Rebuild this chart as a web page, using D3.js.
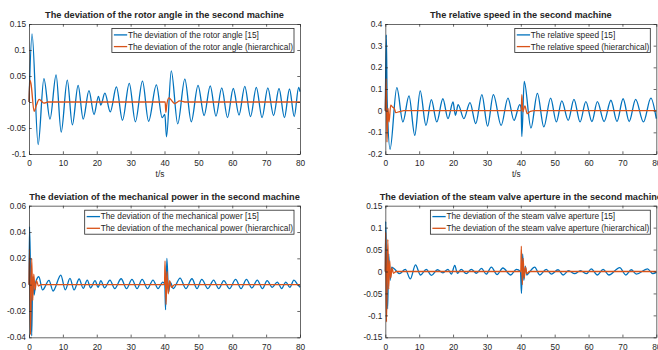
<!DOCTYPE html>
<html>
<head>
<meta charset="utf-8">
<script src="https://cdn.jsdelivr.net/npm/d3@7"></script>
<style>
  body { margin: 0; background: #fff; }
  text { font-family: "Liberation Sans", Arial, sans-serif; fill: #262626; }
</style>
</head>
<body>
<div id="chart"></div>
<script>
// ---- data (extrema of each trace) ----
var timeTicks = [0, 10, 20, 30, 40, 50, 60, 70, 80];

// rotor angle deviation
var angleTicks = [-0.1, -0.05, 0, 0.05, 0.1, 0.15];
var angleRefT = [0, 0.9, 2.7, 4.4, 6.2, 8.0, 9.5, 11.3, 12.8, 14.5, 16.0, 17.7, 19.2, 20.5, 21.2, 22.4, 24.0, 25.8, 27.6, 29.6, 31.4, 33.5, 35.3, 37.6, 39.3, 40.1, 40.6, 42.0, 43.9, 46.0, 47.9, 49.9, 51.7, 53.5, 55.2, 56.9, 58.6, 60.3, 62.0, 63.7, 65.4, 67.1, 68.8, 70.5, 72.2, 73.8, 75.4, 76.9, 78.3, 79.6, 80];
var angleRefV = [0, 0.131, -0.082, 0.045, -0.033, 0.052, -0.058, 0.042, -0.044, 0.032, -0.033, 0.022, -0.024, 0.011, -0.006, 0.017, -0.019, 0.029, -0.035, 0.036, -0.038, 0.04, -0.037, 0.033, -0.03, -0.024, -0.067, 0.06, -0.042, 0.044, -0.038, 0.032, -0.026, 0.031, -0.027, 0.027, -0.03, 0.026, -0.025, 0.03, -0.028, 0.028, -0.03, 0.027, -0.026, 0.026, -0.03, 0.025, -0.028, 0.028, 0.02];
var angleHieT = [0, 0.25, 0.6, 1.5, 2.2, 3.0, 4.4, 5.6, 40.2, 40.4, 40.7, 41.3, 42.2, 43.0, 44.5, 46.0, 80];
var angleHieV = [0, 0.042, 0.035, -0.018, -0.006, 0.005, -0.002, 0, 0, -0.02, -0.004, 0.008, 0.002, -0.003, 0.002, 0, 0];

// relative speed
var speedTicks = [-0.2, -0.1, 0, 0.1, 0.2, 0.3, 0.4];
var speedRefT = [0, 0.3, 0.55, 1.4, 3.4, 5.2, 7.0, 8.7, 10.3, 12.0, 13.6, 15.2, 17.0, 18.5, 20.0, 20.7, 21.5, 23.2, 25.0, 26.7, 28.5, 30.2, 31.9, 34.2, 36.2, 38.0, 39.7, 40.1, 40.3, 41.0, 43.0, 44.9, 46.8, 48.8, 50.5, 52.1, 54.0, 55.7, 57.5, 59.2, 61.0, 62.6, 64.6, 66.6, 68.4, 70.2, 72.0, 73.9, 76.2, 78.4, 80];
var speedRefV = [0, 0.35, 0.05, -0.178, 0.106, -0.052, 0.068, -0.114, 0.091, -0.068, 0.051, -0.052, 0.055, -0.037, 0.04, -0.022, 0.028, -0.037, 0.037, -0.06, 0.074, -0.071, 0.074, -0.068, 0.058, -0.045, 0.028, 0.01, -0.12, 0.135, -0.08, 0.08, -0.075, 0.058, -0.052, 0.045, -0.045, 0.052, -0.052, 0.042, -0.05, 0.042, -0.05, 0.048, -0.05, 0.055, -0.05, 0.052, -0.052, 0.058, -0.037];
var speedHieT = [0, 0.25, 0.5, 0.8, 1.1, 1.6, 2.1, 2.6, 3.1, 4.2, 5.5, 40.15, 40.3, 40.6, 41.2, 41.9, 42.8, 44, 80];
var speedHieV = [0, 0.148, -0.145, 0.01, -0.052, 0.025, 0.017, 0.012, -0.009, -0.004, 0, 0, 0.074, -0.005, 0.022, -0.014, -0.003, 0, 0];

// mechanical power deviation
var powerTicks = [-0.04, -0.02, 0, 0.02, 0.04, 0.06];
var powerRefT = [0, 0.15, 0.45, 0.8, 1.1, 1.5, 2.0, 2.9, 4.0, 5.9, 7.1, 9.4, 10.7, 12.1, 13.3, 14.8, 16.0, 17.2, 18.2, 19.5, 20.4, 21.2, 22.3, 23.9, 25.3, 27.2, 28.8, 30.4, 31.9, 33.4, 35.0, 36.6, 38.1, 39.5, 40.1, 40.3, 40.7, 41.2, 41.7, 42.6, 44.6, 46.3, 48.1, 49.6, 51.0, 52.8, 54.5, 56.0, 57.5, 59.2, 61.0, 62.6, 64.2, 65.8, 67.4, 68.9, 70.3, 71.8, 73.3, 74.6, 75.8, 77.0, 78.2, 79.3, 80];
var powerRefV = [0, 0.044, 0.01, -0.039, 0.006, -0.008, 0.002, 0.006, -0.004, 0.0033, -0.0048, 0.0073, -0.004, 0.0048, -0.004, 0.0043, -0.0028, 0.0035, -0.0025, 0.003, -0.002, 0.003, -0.0025, 0.0035, -0.003, 0.0045, -0.003, 0.004, -0.003, 0.004, -0.003, 0.0035, -0.003, 0.002, 0.0, -0.019, 0.02, -0.006, 0.002, -0.003, 0.005, -0.003, 0.0045, -0.003, 0.004, -0.003, 0.0035, -0.003, 0.003, -0.003, 0.004, -0.003, 0.004, -0.0025, 0.0035, -0.003, 0.003, -0.002, 0.002, -0.003, 0.002, -0.002, 0.0035, 0.0, -0.002];
var powerHieT = [0, 0.15, 0.45, 0.8, 1.1, 1.4, 1.8, 2.2, 2.8, 3.5, 40.0, 40.15, 40.45, 40.75, 41.1, 41.5, 42.0, 43.0, 80];
var powerHieV = [0, 0.027, -0.038, 0.02, -0.012, 0.008, -0.004, 0.003, -0.001, 0, 0, 0.018, -0.015, 0.01, -0.007, 0.003, -0.002, 0, 0];

// steam valve aperture deviation
var valveTicks = [-0.15, -0.1, -0.05, 0, 0.05, 0.1, 0.15];
var valveRefT = [0, 0.12, 0.4, 0.7, 1.0, 1.4, 1.9, 2.8, 4.2, 5.9, 7.4, 8.9, 10.4, 12.1, 13.6, 15.4, 17.0, 18.5, 19.5, 20.5, 21.3, 22.4, 23.9, 25.4, 26.9, 28.4, 29.8, 31.3, 33.0, 34.7, 37.0, 38.7, 39.9, 40.2, 40.55, 40.9, 41.3, 41.8, 42.6, 44.1, 45.6, 47.5, 49.0, 51.0, 52.5, 54.1, 55.9, 57.6, 59.4, 60.8, 62.6, 64.3, 66.0, 69.2, 71.0, 72.6, 74.1, 77.4, 79.0, 80];
var valveRefV = [0, 0.114, -0.02, -0.085, 0.04, -0.02, 0.01, 0.005, -0.005, 0.005, -0.017, 0.015, -0.008, 0.005, -0.009, 0.004, -0.003, 0.005, -0.006, 0.014, -0.004, 0.005, -0.005, 0.005, -0.004, 0.007, -0.006, 0.01, -0.007, 0.008, -0.008, 0.005, 0.0, -0.05, 0.04, -0.02, 0.012, -0.008, -0.001, 0.01, -0.008, 0.005, -0.006, 0.004, -0.008, 0.002, -0.005, 0.002, -0.005, 0.006, -0.008, 0.005, -0.008, 0.009, -0.008, 0.004, -0.006, 0.006, -0.005, -0.002];
var valveHieT = [0, 0.1, 0.35, 0.75, 1.0, 1.3, 1.6, 2.0, 2.4, 3.2, 40.0, 40.15, 40.45, 40.7, 41.0, 41.4, 41.8, 42.5, 80];
var valveHieV = [0, 0.09, -0.115, 0.073, -0.04, 0.025, -0.015, 0.008, -0.004, 0, 0, 0.058, -0.03, 0.03, -0.015, 0.01, -0.005, 0, 0];

// ---- layout ----
var blue = "#0072BD", orange = "#D95319", axisColor = "#262626";

var svg = d3.select("#chart").append("svg")
    .attr("width", 658)
    .attr("height", 350);

var panels = [
    {left: 29, top: 24, width: 271, height: 130, yTicks: angleTicks, xLabel: true,
     title: "The deviation of the rotor angle in the second machine",
     series: [[angleRefT, angleRefV], [angleHieT, angleHieV]],
     labels: ["The deviation of the rotor angle [15]", "The deviation of the rotor angle (hierarchical)"]},
    {left: 385.3, top: 24, width: 271, height: 130, yTicks: speedTicks, xLabel: true,
     title: "The relative speed in the second machine",
     series: [[speedRefT, speedRefV], [speedHieT, speedHieV]],
     labels: ["The relative speed [15]", "The relative speed (hierarchical)"]},
    {left: 29, top: 205.7, width: 271, height: 131.6, yTicks: powerTicks, xLabel: false,
     title: "The deviation of the mechanical power in the second machine",
     series: [[powerRefT, powerRefV], [powerHieT, powerHieV]],
     labels: ["The deviation of the mechanical power [15]", "The deviation of the mechanical power (hierarchical)"]},
    {left: 385.3, top: 205.7, width: 271, height: 131.6, yTicks: valveTicks, xLabel: false,
     title: "The deviation of the steam valve aperture in the second machine",
     series: [[valveRefT, valveRefV], [valveHieT, valveHieV]],
     labels: ["The deviation of the steam valve aperture [15]", "The deviation of the steam valve aperture (hierarchical)"]}
];

panels.forEach(drawPanel);

function drawPanel(p) {
    var g = svg.append("g")
        .attr("transform", "translate(" + p.left + "," + p.top + ")");

    var x = d3.scaleLinear().domain([0, 80]).range([0, p.width]);
    var y = d3.scaleLinear()
        .domain([p.yTicks[0], p.yTicks[p.yTicks.length - 1]])
        .range([p.height, 0]);

    var line = d3.line()
        .x(function(d) { return x(d[0]); })
        .y(function(d) { return y(d[1]); })
        .curve(d3.curveMonotoneX);

    // traces, blue first then orange on top
    var colors = [blue, orange];
    p.series.forEach(function(s, i) {
        g.append("path")
            .datum(d3.zip(s[0], s[1]))
            .attr("d", line)
            .attr("fill", "none")
            .attr("stroke", colors[i])
            .attr("stroke-width", 1.3)
            .attr("stroke-linejoin", "round");
    });

    // axes, ticks pointing inwards on all four sides
    var tick = 2.7;
    var axes = [
        g.append("g").attr("transform", "translate(0," + p.height + ")")
            .call(d3.axisBottom(x).tickValues(timeTicks).tickSizeInner(-tick).tickSizeOuter(0).tickPadding(6.5)),
        g.append("g")
            .call(d3.axisLeft(y).tickValues(p.yTicks).tickFormat(String).tickSizeInner(-tick).tickSizeOuter(0).tickPadding(3)),
        g.append("g")
            .call(d3.axisTop(x).tickValues(timeTicks).tickFormat("").tickSizeInner(-tick).tickSizeOuter(0)),
        g.append("g").attr("transform", "translate(" + p.width + ",0)")
            .call(d3.axisRight(y).tickValues(p.yTicks).tickFormat("").tickSizeInner(-tick).tickSizeOuter(0))
    ];
    axes.forEach(function(a) {
        a.selectAll("path, line").attr("stroke", axisColor).attr("stroke-width", 0.7);
        a.selectAll("text").attr("fill", axisColor)
            .attr("font-family", '"Liberation Sans", Arial, sans-serif')
            .attr("font-size", "8.3px");
    });

    // title
    g.append("text")
        .attr("x", p.width / 2)
        .attr("y", -6)
        .attr("text-anchor", "middle")
        .attr("font-weight", "bold")
        .attr("font-size", "9.2px")
        .text(p.title);

    // x label (the lower row's labels fall below the window)
    if (p.xLabel) {
        g.append("text")
            .attr("x", p.width / 2 - 4.5)
            .attr("y", p.height + 22.5)
            .attr("text-anchor", "middle")
            .attr("font-size", "8.3px")
            .text("t/s");
    }

    // legend, anchored to the top right corner of the axes
    var leg = g.append("g");
    var box = leg.append("rect")
        .attr("fill", "#fff")
        .attr("stroke", axisColor)
        .attr("stroke-width", 0.8);
    var maxW = 0;
    p.labels.forEach(function(label, i) {
        var t = leg.append("text")
            .attr("x", 16)
            .attr("y", 9.3 + i * 11.7)
            .attr("font-size", "8.3px")
            .text(label);
        maxW = Math.max(maxW, t.node().getComputedTextLength());
        leg.append("line")
            .attr("x1", 2).attr("x2", 15.3)
            .attr("y1", 6.4 + i * 11.7).attr("y2", 6.4 + i * 11.7)
            .attr("stroke", colors[i])
            .attr("stroke-width", 1.3);
    });
    var legW = maxW + 17;
    box.attr("width", legW).attr("height", 24);
    leg.attr("transform", "translate(" + (p.width - 6 - legW) + "," + 4.5 + ")");
}
</script>
</body>
</html>
